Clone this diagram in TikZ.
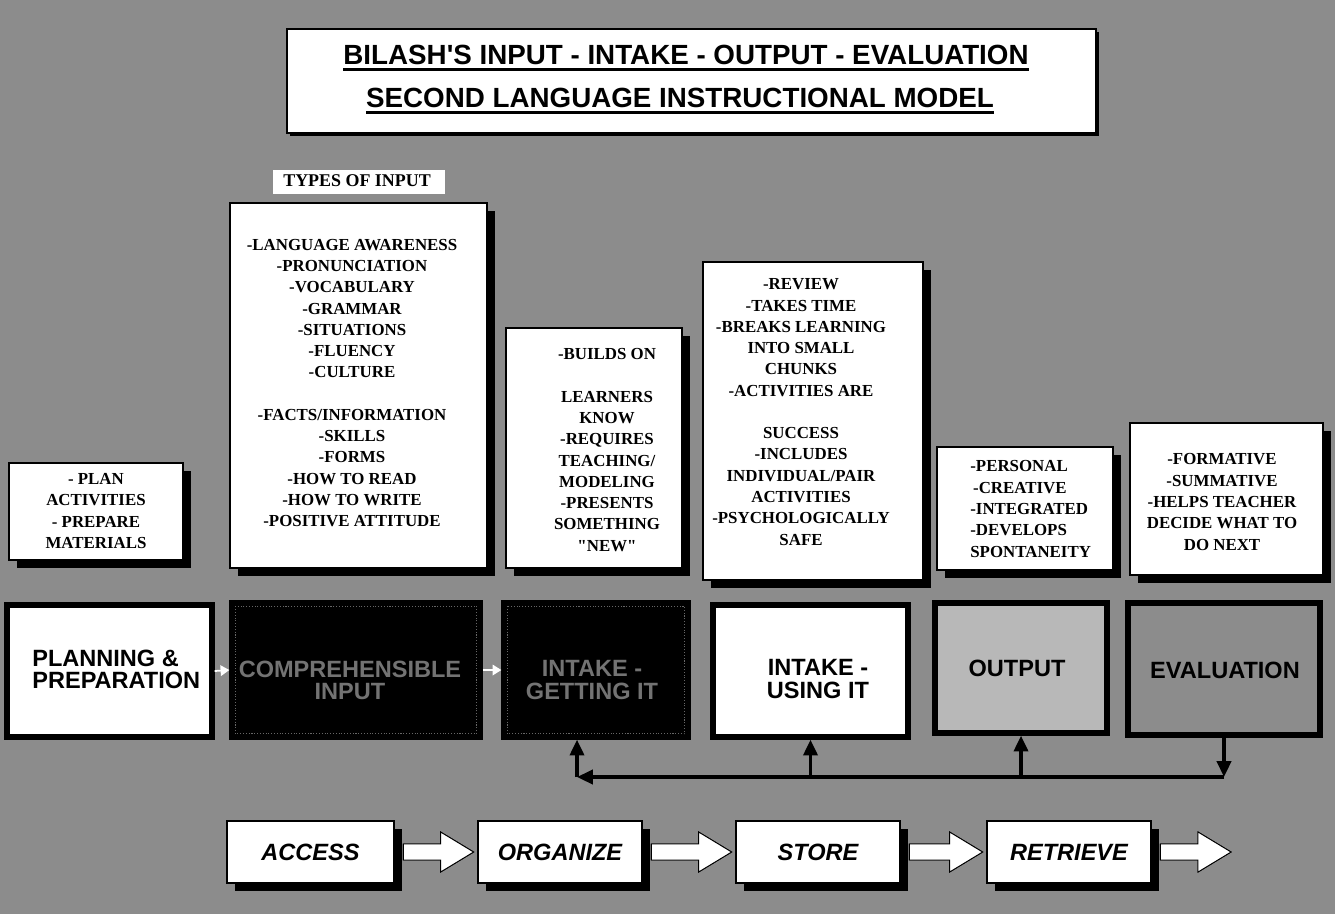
\documentclass[tikz,border=0pt]{standalone}
\usepackage{fontspec}
\setmainfont{Liberation Serif}
\newfontfamily\arialfont{Liberation Sans}
\usetikzlibrary{fit,shadows,calc,arrows.meta}

% heavy underline used in the heading
\newcommand\thickul[1]{\setbox0\hbox{#1}\rlap{\copy0}\rule[-3.4pt]{\wd0}{1.7pt}}
% straight-edged block arrow with a dark offset shadow, from tail coordinate #1 to tip coordinate #2
\newcommand\blockarrow[2]{%
  \foreach \sx/\sy/\fc in {3/7/black, 0/0/white} {
    \filldraw[fill=\fc, draw=black, line width=0.5pt, shift={(\sx,\sy)}]
      ($(#1)+(0,-8)$) -- ($(#2)+(-33,-8)$) -- ($(#2)+(-33,-20)$) -- (#2)
      -- ($(#2)+(-33,20)$) -- ($(#2)+(-33,8)$) -- ($(#1)+(0,8)$) -- cycle;
  }}

\definecolor{bgcol}{gray}{0.55}
\definecolor{outfill}{gray}{0.72}
\definecolor{evalfill}{gray}{0.55}

\begin{document}
\begin{tikzpicture}[x=0.02cm, y=-0.02cm,
  titlebox/.style={draw=black, fill=white, line width=1.4pt, inner sep=0pt,
    drop shadow={shadow xshift=0.06cm, shadow yshift=-0.06cm, opacity=1, fill=black}},
  titletext/.style={font=\arialfont\bfseries\fontsize{15.8}{19}\selectfont, inner sep=0pt},
  notebox/.style={draw=black, fill=white, line width=1.6pt, inner sep=0pt,
    drop shadow={shadow xshift=0.16cm, shadow yshift=-0.16cm, opacity=1, fill=black}},
  stagebox/.style={draw=black, line width=3pt, inner sep=0pt},
  notetext/.style={font=\bfseries\fontsize{9.6}{12.1}\selectfont, align=center, inner sep=0pt},
  stagetext/.style={font=\arialfont\bfseries\fontsize{13.4}{12.6}\selectfont, align=center, inner sep=0pt},
  steptext/.style={font=\arialfont\bfseries\itshape\fontsize{13.4}{14}\selectfont, inner sep=0pt},
  conn/.style={line width=2pt, draw=black, -{Triangle[length=9pt, width=8pt]}},
  smallarrow/.style={draw=white, line width=1pt, -{Triangle[length=5pt, width=6pt]}}
]
% backdrop
\fill[bgcol] (0,0) rectangle (1335,914);
\useasboundingbox (0,0) rectangle (1335,914);

% heading
\node[titlebox, fit={(287,29) (1096,133)}] (title) {};
\node[titletext] (t1) at (686,58) {\thickul{BILASH\textquotesingle S INPUT - INTAKE - OUTPUT - EVALUATION}};
\node[titletext] (t2) at (680,101) {\thickul{SECOND LANGUAGE INSTRUCTIONAL MODEL}};

% caption on a white strip above the list of input types
\fill[white] (273,170) rectangle (445,194);
\node[font=\bfseries\fontsize{10.2}{12}\selectfont, inner sep=0pt, anchor=west] (types) at (283,181) {TYPES OF INPUT};

% descriptive note boxes
\node[notebox, fit={(9,463) (183,560)}] (planbox) {};
\node[notetext] (plantxt) at (96,511) {- PLAN\\ ACTIVITIES\\ - PREPARE\\ MATERIALS};

\node[notebox, fit={(230,203) (487,568)}] (typesbox) {};
\node[notetext] (typestxt) at (352,383) {-LANGUAGE AWARENESS\\ -PRONUNCIATION\\ -VOCABULARY\\ -GRAMMAR\\
  -SITUATIONS\\ -FLUENCY\\ -CULTURE\\ \mbox{}\\ -FACTS/INFORMATION\\ -SKILLS\\ -FORMS\\
  -HOW TO READ\\ -HOW TO WRITE\\ -POSITIVE ATTITUDE};

\node[notebox, fit={(506,328) (682,568)}] (buildsbox) {};
\node[notetext] (buildstxt) at (607,450) {-BUILDS ON\\ \mbox{}\\ LEARNERS\\ KNOW\\ -REQUIRES\\
  TEACHING/\\ MODELING\\ -PRESENTS\\ SOMETHING\\ \textquotedbl NEW\textquotedbl};

\node[notebox, fit={(703,262) (923,580)}] (reviewbox) {};
\node[notetext] (reviewtxt) at (801,412) {-REVIEW\\ -TAKES TIME\\ -BREAKS LEARNING\\ INTO SMALL\\ CHUNKS\\
  -ACTIVITIES ARE\\ \mbox{}\\ SUCCESS\\ -INCLUDES\\ INDIVIDUAL/PAIR\\ ACTIVITIES\\
  -PSYCHOLOGICALLY\\ SAFE};

\node[notebox, fit={(937,447) (1113,570)}] (personalbox) {};
\node[notetext, align=left, anchor=west] (personaltxt) at (970,509) {-PERSONAL\\ \,-CREATIVE\\ -INTEGRATED\\ -DEVELOPS\\ SPONTANEITY};

\node[notebox, fit={(1130,423) (1323,575)}] (formbox) {};
\node[notetext] (formtxt) at (1222,502) {-FORMATIVE\\ -SUMMATIVE\\ -HELPS TEACHER\\ DECIDE WHAT TO\\ DO NEXT};

% stage boxes
\node[stagebox, fill=white, fit={(7,605) (212,737)}] (planning) {};
\node[stagetext, align=left, anchor=west] (planningtxt) at (32,669) {PLANNING \&\\ PREPARATION};

\node[stagebox, fill=black, fit={(232,603) (480,737)}] (comp) {};
\draw[black!60, densely dotted, line width=0.6pt] ($(comp.north west)+(6,6)$) rectangle ($(comp.south east)+(-6,-6)$);
\node[stagetext, text=black!55] (comptxt) at (350,680) {COMPREHENSIBLE\\ INPUT};

\node[stagebox, fill=black, fit={(504,603) (688,737)}] (getting) {};
\draw[black!60, densely dotted, line width=0.6pt] ($(getting.north west)+(6,6)$) rectangle ($(getting.south east)+(-6,-6)$);
\node[stagetext, text=black!55] (gettingtxt) at (592,680) {INTAKE -\\ GETTING IT};

\node[stagebox, fill=white, fit={(713,605) (908,737)}] (using) {};
\node[stagetext] (usingtxt) at (818,679) {INTAKE -\\ USING IT};

\node[stagebox, fill=outfill, fit={(935,603) (1107,733)}] (output) {};
\node[stagetext] (outputtxt) at (1017,668) {OUTPUT};

\node[stagebox, fill=evalfill, fit={(1128,603) (1320,735)}] (eval) {};
\node[stagetext] (evaltxt) at (1225,670) {EVALUATION};

\draw[smallarrow] (planning.east) -- (comp.west);
\draw[smallarrow] (comp.east) -- (getting.west);

% feedback loop under the stages
\coordinate (busW) at (577,777);
\coordinate (busE) at (eval.south |- busW);
\draw[conn] (eval.south) -- (busE);
\draw[conn] (busE) -- (busW);
\draw[conn] (busW) -- (getting.south -| busW);
\draw[conn] (using.south |- busW) -- (using.south);
\draw[conn] (output.south |- busW) -- (output.south);

% processing steps
\node[notebox, fit={(227,821) (394,883)}] (access) {};
\node[steptext] (accesstxt) at (access.center) {ACCESS};
\node[notebox, fit={(478,821) (642,883)}] (organize) {};
\node[steptext] (organizetxt) at (organize.center) {ORGANIZE};
\node[notebox, fit={(736,821) (900,883)}] (store) {};
\node[steptext] (storetxt) at (store.center) {STORE};
\node[notebox, fit={(987,821) (1151,883)}] (retrieve) {};
\node[steptext] (retrievetxt) at (retrieve.center) {RETRIEVE};

\coordinate (a1t) at ($(access.east)+(8,0)$);
\coordinate (a1h) at ($(organize.west)+(-3,0)$);
\coordinate (a2t) at ($(organize.east)+(8,0)$);
\coordinate (a2h) at ($(store.west)+(-3,0)$);
\coordinate (a3t) at ($(store.east)+(8,0)$);
\coordinate (a3h) at ($(retrieve.west)+(-3,0)$);
\coordinate (a4t) at ($(retrieve.east)+(8,0)$);
\coordinate (a4h) at (1231,852);
\blockarrow{a1t}{a1h}
\blockarrow{a2t}{a2h}
\blockarrow{a3t}{a3h}
\blockarrow{a4t}{a4h}
\end{tikzpicture}
\end{document}
